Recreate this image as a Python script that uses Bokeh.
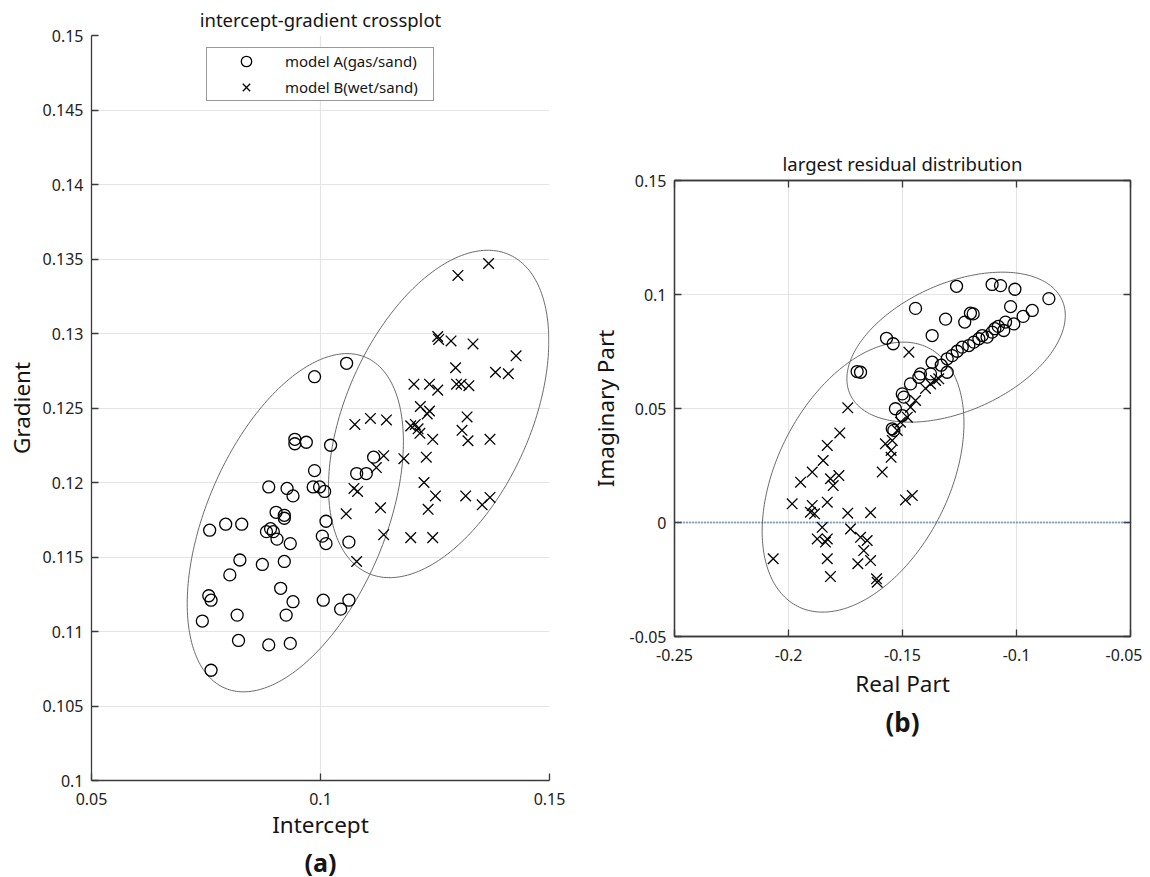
import numpy as np
from bokeh.plotting import figure
from bokeh.layouts import row
from bokeh.models import (Range1d, FixedTicker, CustomJSTickFormatter, LinearAxis,
                          Title, Legend, LegendItem, Span)
from bokeh.embed import file_html
from bokeh.resources import INLINE

# ---------------- data: panel (a) ----------------
a_labels = ["model A(gas/sand)", "model B(wet/sand)"]
a_x = [0.1057, 0.0987, 0.0944, 0.0944, 0.0969, 0.1022, 0.0987, 0.0887, 0.0927, 0.0940,
       0.0984, 0.0998, 0.1009, 0.0903, 0.0921, 0.0921, 0.0758, 0.0793, 0.0828, 0.0882,
       0.0891, 0.0897, 0.0905, 0.0934, 0.1012, 0.1004, 0.1012, 0.1062, 0.0824, 0.0873,
       0.0921, 0.0802, 0.0913, 0.0756, 0.0761, 0.0940, 0.1006, 0.1062, 0.1044, 0.0742,
       0.0818, 0.0925, 0.0821, 0.0887, 0.0934, 0.0761, 0.1116, 0.1079, 0.1100]
a_y = [0.1280, 0.1271, 0.1229, 0.1226, 0.1227, 0.1225, 0.1208, 0.1197, 0.1196, 0.1191,
       0.1197, 0.1197, 0.1194, 0.1180, 0.1178, 0.1176, 0.1168, 0.1172, 0.1172, 0.1167,
       0.1169, 0.1167, 0.1162, 0.1159, 0.1174, 0.1164, 0.1159, 0.1160, 0.1148, 0.1145,
       0.1147, 0.1138, 0.1129, 0.1124, 0.1121, 0.1120, 0.1121, 0.1121, 0.1115, 0.1107,
       0.1111, 0.1111, 0.1094, 0.1091, 0.1092, 0.1074, 0.1217, 0.1206, 0.1206]
b_x = [0.1367, 0.1300, 0.1256, 0.1258, 0.1285, 0.1333, 0.1427, 0.1295, 0.1382, 0.1410,
       0.1204, 0.1238, 0.1256, 0.1297, 0.1307, 0.1324, 0.1218, 0.1238, 0.1233, 0.1320,
       0.1197, 0.1207, 0.1213, 0.1217, 0.1309, 0.1245, 0.1322, 0.1370, 0.1075, 0.1109,
       0.1144, 0.1138, 0.1182, 0.1231, 0.1122, 0.1226, 0.1251, 0.1073, 0.1081, 0.1317,
       0.1353, 0.1370, 0.1131, 0.1235, 0.1056, 0.1138, 0.1197, 0.1245, 0.1079]
b_y = [0.1347, 0.1339, 0.1298, 0.1296, 0.1295, 0.1293, 0.1285, 0.1277, 0.1274, 0.1273,
       0.1266, 0.1266, 0.1262, 0.1266, 0.1266, 0.1265, 0.1251, 0.1248, 0.1246, 0.1244,
       0.1238, 0.1239, 0.1236, 0.1233, 0.1235, 0.1229, 0.1228, 0.1229, 0.1239, 0.1243,
       0.1242, 0.1218, 0.1216, 0.1217, 0.1210, 0.1200, 0.1191, 0.1196, 0.1194, 0.1191,
       0.1185, 0.1190, 0.1183, 0.1182, 0.1179, 0.1165, 0.1163, 0.1163, 0.1147]
# ellipse (centre, covariance)
ellA_c = [0.0945, 0.1173]
ellA_cov = [[0.000557, 0.0001283], [0.0001283, 0.0001288]]
ellB_c = [0.1258, 0.1246]
ellB_cov = [[0.0005784, 0.000118], [0.000118, 0.0001207]]
a_xticks = ["0.05", "0.1", "0.15"]
a_yticks = ["0.1", "0.105", "0.11", "0.115", "0.12", "0.125", "0.13", "0.135", "0.14", "0.145", "0.15"]

# ---------------- data: panel (b) ----------------
c_x = [-0.1263, -0.1107, -0.1070, -0.1007, -0.0858, -0.1443, -0.1026, -0.0931, -0.0971, -0.1202,
       -0.1190, -0.1311, -0.1227, -0.1370, -0.1570, -0.1541, -0.1699, -0.1684,
       -0.1012, -0.1048, -0.1056, -0.1095, -0.1107, -0.1129, -0.1165, -0.1187, -0.1209, -0.1238,
       -0.1260, -0.1282, -0.1304, -0.1304, -0.1370, -0.1377, -0.1421, -0.1428, -0.1465, -0.1501,
       -0.1494, -0.1531, -0.1501, -0.1545, -0.1538, -0.1150, -0.1330, -0.1080]
c_y = [0.1036, 0.1044, 0.1039, 0.1023, 0.0982, 0.0939, 0.0947, 0.0930, 0.0904, 0.0918,
       0.0915, 0.0892, 0.0879, 0.0820, 0.0808, 0.0784, 0.0662, 0.0659,
       0.0871, 0.0879, 0.0842, 0.0850, 0.0835, 0.0813, 0.0806, 0.0791, 0.0776, 0.0769,
       0.0751, 0.0732, 0.0718, 0.0659, 0.0703, 0.0652, 0.0652, 0.0637, 0.0608, 0.0564,
       0.0550, 0.0499, 0.0469, 0.0411, 0.0404, 0.0820, 0.0690, 0.0860]
d_x = [-0.1740, -0.1775, -0.1830, -0.1848, -0.1896, -0.1947, -0.1816, -0.1779, -0.1804, -0.1589,
       -0.1575, -0.1550, -0.1550, -0.1984, -0.1896, -0.1830, -0.1904, -0.1886, -0.1740, -0.1640,
       -0.1487, -0.1457, -0.1852, -0.1874, -0.1830, -0.1838, -0.1728, -0.1684, -0.1655, -0.1670,
       -0.1640, -0.1696, -0.1830, -0.2067, -0.1816, -0.1614, -0.1611,
       -0.1341, -0.1355, -0.1377, -0.1399, -0.1443, -0.1465, -0.1479, -0.1509, -0.1523, -0.1545,
       -0.1472]
d_y = [0.0503, 0.0393, 0.0338, 0.0272, 0.0221, 0.0177, 0.0192, 0.0206, 0.0162, 0.0221,
       0.0345, 0.0316, 0.0286, 0.0082, 0.0075, 0.0089, 0.0045, 0.0038, 0.0041, 0.0043,
       0.0099, 0.0118, -0.0021, -0.0072, -0.0072, -0.0086, -0.0028, -0.0065, -0.0079, -0.0123,
       -0.0167, -0.0181, -0.0159, -0.0159, -0.0237, -0.0247, -0.0262,
       0.0630, 0.0623, 0.0608, 0.0588, 0.0535, 0.0506, 0.0462, 0.0440, 0.0404, 0.0360,
       0.0747]
ellC_c = [-0.1265, 0.0769]
ellC_cov = [[0.002294, 0.000665], [0.000665, 0.001082]]
ellD_c = [-0.1673, 0.0199]
ellD_cov = [[0.001958, 0.00105], [0.00105, 0.003505]]
b_xticks = ["-0.25", "-0.2", "-0.15", "-0.1", "-0.05"]
b_yticks = ["-0.05", "0", "0.05", "0.1", "0.15"]

FONT = "Noto Sans"
AX = "#3a3a3a"
GRID = "#e4e4e4"
ELL = "#6a6a6a"
TXT = "#151515"
fmt_code = "return String(Math.round(tick*10000)/10000);"


def ellipse(c, cov):
    L = np.linalg.cholesky(np.array(cov))
    t = np.linspace(0, 2 * np.pi, 241)
    pts = L @ np.vstack([np.cos(t), np.sin(t)])
    return c[0] + pts[0], c[1] + pts[1]


def style_axis(ax, ticks, label=None, label_standoff=8, tick_standoff=8):
    ax.ticker = FixedTicker(ticks=[float(v) for v in ticks])
    ax.formatter = CustomJSTickFormatter(code=fmt_code)
    ax.major_tick_in = 7
    ax.major_tick_out = 0
    ax.minor_tick_line_color = None
    ax.axis_line_color = AX
    ax.axis_line_width = 1.3
    ax.major_tick_line_color = AX
    ax.major_tick_line_width = 1.3
    ax.major_label_text_font = FONT
    ax.major_label_text_font_size = "16px"
    ax.major_label_text_color = "#222222"
    ax.major_label_standoff = tick_standoff
    if label is not None:
        ax.axis_label = label
        ax.axis_label_text_font = FONT
        ax.axis_label_text_font_size = "22.5px"
        ax.axis_label_text_font_style = "normal"
        ax.axis_label_text_color = TXT
        ax.axis_label_standoff = label_standoff


def set_title(p, text, standoff):
    p.title.text = text
    p.title.align = "center"
    p.title.text_font = FONT
    p.title.text_font_size = "18.5px"
    p.title.text_font_style = "normal"
    p.title.text_color = TXT
    p.title.standoff = standoff


def add_panel_tag(p, text, standoff, size="25px"):
    p.add_layout(Title(text=text, align="center", text_font=FONT, text_font_size=size,
                       text_font_style="bold", text_color=TXT, standoff=standoff), "below")


# ---------------- panel (a) ----------------
p1 = figure(frame_width=458, frame_height=745, x_range=Range1d(0.05, 0.15), y_range=Range1d(0.1, 0.15),
            output_backend="svg", toolbar_location=None, frame_align=False,
            min_border_left=91, min_border_right=25, min_border_top=35, min_border_bottom=92,
            outline_line_color=None)
style_axis(p1.xaxis[0], a_xticks, "Intercept", 1, 12)
style_axis(p1.yaxis[0], a_yticks, "Gradient", 3, 8)
p1.grid.grid_line_color = GRID
p1.grid.grid_line_width = 1.2
set_title(p1, "intercept-gradient crossplot", 8)
add_panel_tag(p1, "(a)", 0)

ex, ey = ellipse(ellA_c, ellA_cov)
p1.line(ex, ey, line_color=ELL, line_width=1)
ex, ey = ellipse(ellB_c, ellB_cov)
p1.line(ex, ey, line_color=ELL, line_width=1)
rA = p1.scatter(a_x, a_y, marker="circle", size=12, fill_color=None, line_color="black", line_width=1.3)
rB = p1.scatter(b_x, b_y, marker="x", size=15, line_color="black", line_width=1.3)

legend = Legend(items=[LegendItem(label=a_labels[0], renderers=[rA]),
                       LegendItem(label=a_labels[1], renderers=[rB])],
                location="top_center", margin=12, padding=0, spacing=0,
                glyph_width=78, glyph_height=26, label_height=26, label_width=148,
                label_standoff=0, border_line_color="#333333", border_line_width=1,
                label_text_font=FONT, label_text_font_size="15px", label_text_color=TXT,
                background_fill_color="white", background_fill_alpha=1)
p1.add_layout(legend)

# ---------------- panel (b) ----------------
p2 = figure(frame_width=456, frame_height=456, x_range=Range1d(-0.25, -0.05), y_range=Range1d(-0.05, 0.15),
            output_backend="svg", toolbar_location=None, frame_align=False,
            min_border_left=100, min_border_right=12, min_border_top=180, min_border_bottom=105,
            outline_line_color=AX, outline_line_width=1.3)
style_axis(p2.xaxis[0], b_xticks, "Real Part", 4, 12)
style_axis(p2.yaxis[0], b_yticks, "Imaginary Part", 6, 8)
top_ax = LinearAxis()
right_ax = LinearAxis()
style_axis(top_ax, b_xticks)
style_axis(right_ax, b_yticks)
for ax in (top_ax, right_ax):
    ax.major_label_text_font_size = "1px"
    ax.major_label_text_color = None
    ax.major_label_standoff = 0
p2.add_layout(top_ax, "above")
p2.add_layout(right_ax, "right")
p2.grid.grid_line_color = GRID
p2.grid.grid_line_width = 1.2
set_title(p2, "largest residual distribution", 9)
add_panel_tag(p2, "(b)", 1, "26px")

p2.add_layout(Span(location=0, dimension="width", line_color="#2b5ba8", line_width=1.8, line_dash="1 2"))
ex, ey = ellipse(ellC_c, ellC_cov)
p2.line(ex, ey, line_color=ELL, line_width=1)
ex, ey = ellipse(ellD_c, ellD_cov)
p2.line(ex, ey, line_color=ELL, line_width=1)
p2.scatter(c_x, c_y, marker="circle", size=12, fill_color=None, line_color="black", line_width=1.3)
p2.scatter(d_x, d_y, marker="x", size=15, line_color="black", line_width=1.3)

layout = row(p1, p2)
open("out.html", "w").write(file_html(layout, INLINE))
